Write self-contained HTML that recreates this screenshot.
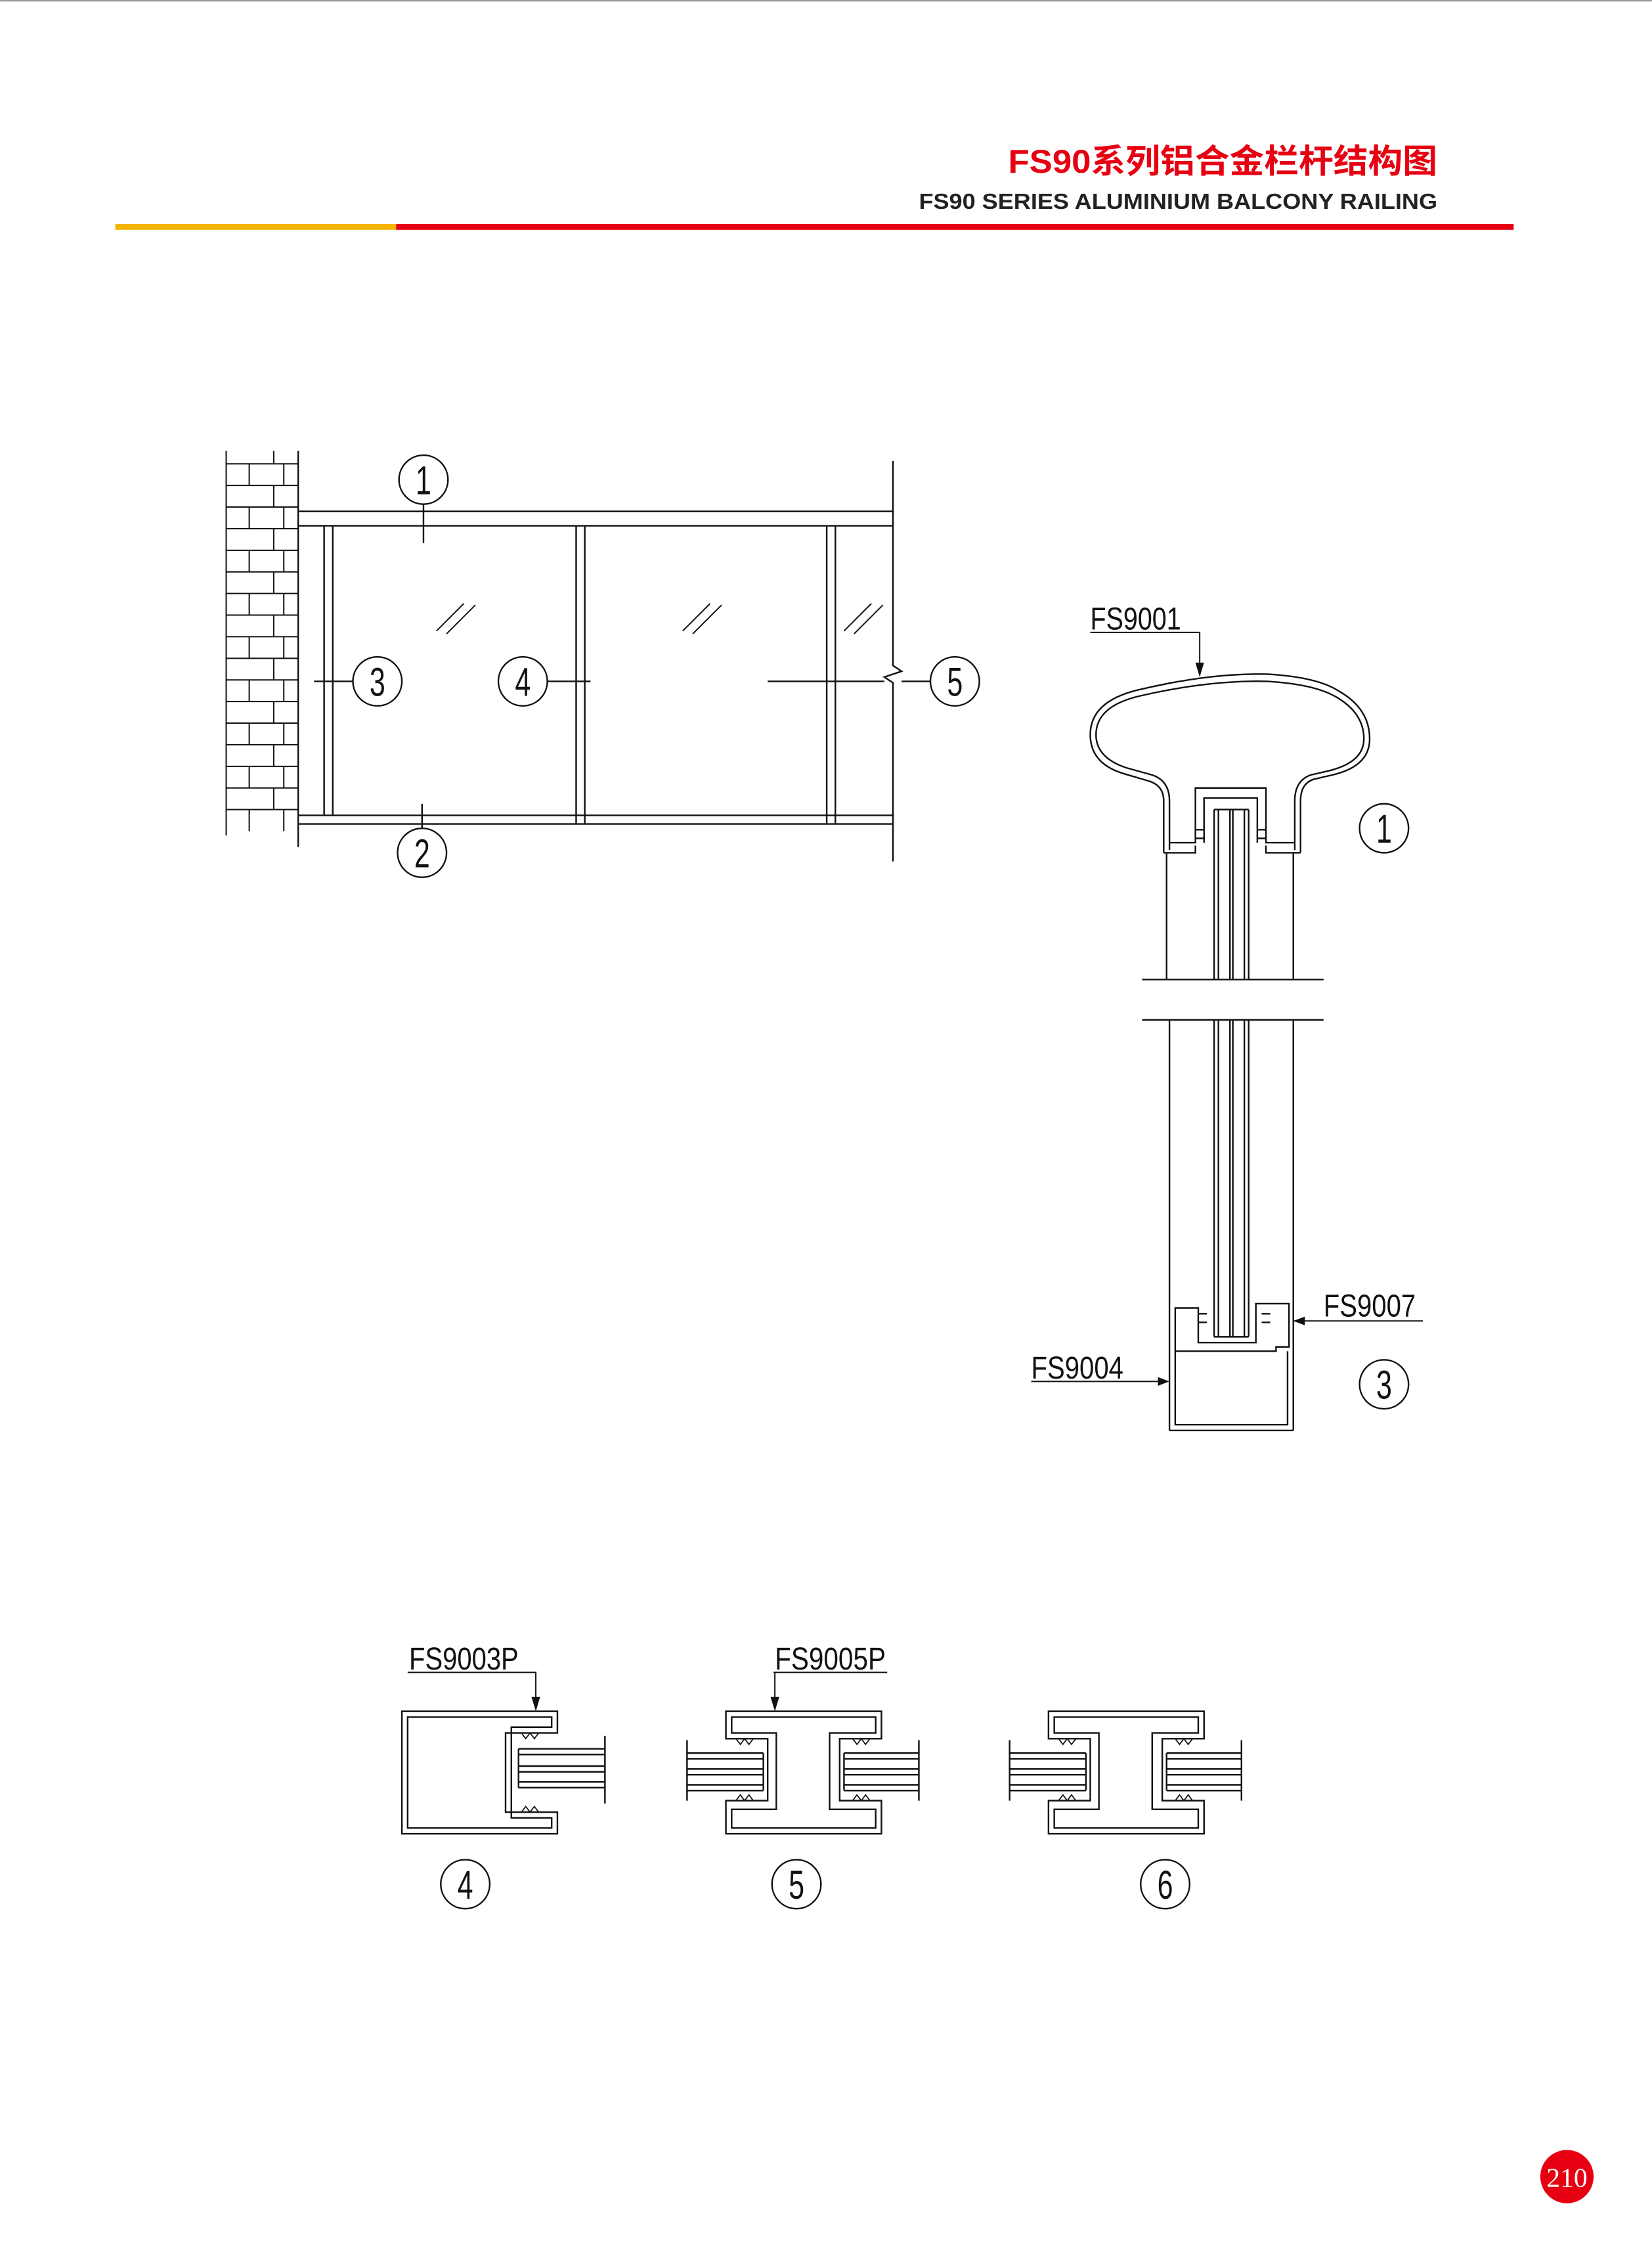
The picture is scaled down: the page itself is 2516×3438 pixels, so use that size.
<!DOCTYPE html>
<html><head><meta charset="utf-8"><style>
html,body{margin:0;padding:0;background:#fff}
svg{display:block}
</style></head><body>
<svg width="2516" height="3438" viewBox="0 0 1147 1567.5" xmlns="http://www.w3.org/2000/svg">
<rect width="1147" height="1568" fill="#fff"/>
<line x1="0" y1="0.5" x2="1147" y2="0.5" stroke="#999" stroke-width="1"/>
<!-- header -->
<text x="700" y="120" textLength="298" lengthAdjust="spacingAndGlyphs" font-family="Liberation Sans, 'Noto Sans CJK SC', sans-serif" font-size="23" font-weight="bold" fill="#e60012">FS90系列铝合金栏杆结构图</text>
<text x="638" y="145" textLength="360" lengthAdjust="spacingAndGlyphs" font-family="Liberation Sans, sans-serif" font-size="15" font-weight="bold" fill="#222">FS90 SERIES ALUMINIUM BALCONY RAILING</text>
<rect x="80" y="155.5" width="195" height="4" fill="#f5b400"/>
<rect x="275" y="155.5" width="776" height="4" fill="#e60012"/>

<g fill="none" stroke="#111" stroke-width="1.1">
<!-- brick wall -->
<line x1="207" y1="313" x2="207" y2="588"/>
<g stroke-width="0.9">
<path d="M157,313 V580"/>
<path d="M157,322 H207 M157,337 H207 M157,352 H207 M157,367 H207 M157,382 H207 M157,397 H207 M157,412 H207 M157,427 H207 M157,442 H207 M157,457 H207 M157,472 H207 M157,487 H207 M157,502 H207 M157,517 H207 M157,532 H207 M157,547 H207 M157,562 H207"/>
<path d="M190,313V322 M173,322V337 M197,322V337 M190,337V352 M173,352V367 M197,352V367 M190,367V382 M173,382V397 M197,382V397 M190,397V412 M173,412V427 M197,412V427 M190,427V442 M173,442V457 M197,442V457 M190,457V472 M173,472V487 M197,472V487 M190,487V502 M173,502V517 M197,502V517 M190,517V532 M173,532V547 M197,532V547 M190,547V562 M173,562V577 M197,562V577"/>
</g>
<!-- rails -->
<path d="M207,355 H620 M207,365 H620 M207,566 H620 M207,572 H620"/>
<path d="M225,365 V566 M231,365 V566 M400,365 V572 M406,365 V572 M574,365 V572 M580,365 V572"/>
<path d="M620,320 V462 L626,466 L614,470 L620,474 V598"/>
<!-- hatch -->
<path d="M303,438 L322,419 M310,440 L330,420 M474,438 L493,419 M481,440 L501,420 M586,438 L605,419 M593,440 L613,420" stroke-width="0.9"/>
<!-- leaders -->
<path d="M294,350 V377 M293,575 V558 M218,473 H245 M380,473 H410 M533,473 H614 M626,473 H646"/>
<ellipse cx="294" cy="333" rx="17" ry="17"/>
<ellipse cx="293" cy="592" rx="17" ry="17"/>
<ellipse cx="262" cy="473" rx="17" ry="17"/>
<ellipse cx="363" cy="473" rx="17" ry="17"/>
<ellipse cx="663" cy="473" rx="17" ry="17"/>
<ellipse cx="961" cy="575" rx="17" ry="17"/>
<ellipse cx="961" cy="961" rx="17" ry="17"/>
<ellipse cx="323" cy="1308" rx="17" ry="17"/>
<ellipse cx="553" cy="1308" rx="17" ry="17"/>
<ellipse cx="809" cy="1308" rx="17" ry="17"/>

<!-- handrail section -->
<path d="M808,592 V556 Q808,545 797,542 L780,537 Q757,530 757,510 Q757,487 790,479 Q840,467 880,468 Q915,470 930,480 Q951,492 951,513 Q951,532 925,538 L912,541 Q903,544 903,556 V592"/>
<path d="M812,590 V556 Q812,542 800,538 L782,533 Q761,526 761,510 Q761,490 792,483 Q840,472 880,473 Q913,475 928,484 Q947,495 947,513 Q947,529 923,535 L910,538 Q899,542 899,556 V590 M812,585 H830 V547 H879 V585 H899 M808,592 H830 V587 M903,592 H879 V587 M836,585 V554 H873 V585"/>
<path d="M830,576 H836 M830,582 H836 M873,576 H879 M873,582 H879"/>
<path d="M810,592 V680 M898,592 V680 M793,680 H919 M793,708 H919 M812,708 V993 M898,708 V993 M812,993 H898"/>
<path d="M843,562 V680 M867,562 V680 M843,562 H867 M846,562 V680 M864,562 V680 M854,562 V680 M856,562 V680"/>
<path d="M843,708 V928 M867,708 V928 M846,708 V928 M864,708 V928 M854,708 V928 M856,708 V928 M843,928 H867"/>
<path d="M816,908 H832 V932 H872 V905 H895 V935 H886 V938 H816 Z M816,908 V989 H894 V938"/>
<path d="M832,912 H838 M832,918 H838 M876,912 H882 M876,918 H882"/>

<!-- leaders right -->
<path d="M757,439 H833 V466" stroke-width="0.9"/>
<path d="M919,917 H988 M919,917 H898" stroke-width="0.9"/>
<path d="M716,959 H808" stroke-width="0.9"/>

<!-- detail 4 -->
<path d="M387,1188 H279 V1273 H387 V1258 H351 V1203 H387 Z"/>
<path d="M383,1192 H283 V1269 H383 V1262 H355 V1199 H383 Z"/>
<path d="M360,1214 H420 M360,1218 H420 M360,1226 H420 M360,1230 H420 M360,1237 H420 M360,1241 H420 M360,1214 V1241 M420,1205 V1252"/>
<path d="M362,1203 l3,4 3,-4 3,4 3,-4 M362,1258 l3,-4 3,4 3,-4 3,4" stroke-width="0.8"/>

<!-- detail 5 & 6 -->
<g id="h5">
<path d="M504,1188 H612 V1207 H583 V1250 H612 V1273 H504 V1250 H533 V1207 H504 Z"/>
<path d="M508,1192 H608 V1203 H576 V1256 H608 V1269 H508 V1256 H539 V1203 H508 Z"/>
<path d="M477,1217 H530 M477,1221 H530 M477,1228 H530 M477,1232 H530 M477,1239 H530 M477,1243 H530 M530,1217 V1243 M477,1208 V1250"/>
<path d="M586,1217 H638 M586,1221 H638 M586,1228 H638 M586,1232 H638 M586,1239 H638 M586,1243 H638 M586,1217 V1243 M638,1208 V1250"/>
<path d="M511,1207 l3,4 3,-4 3,4 3,-4 M511,1250 l3,-4 3,4 3,-4 3,4 M592,1207 l3,4 3,-4 3,4 3,-4 M592,1250 l3,-4 3,4 3,-4 3,4" stroke-width="0.8"/>
</g>
<use href="#h5" transform="translate(224,0)"/>

<path d="M283,1161 H372 V1183 M537,1161 H616 M538,1161 V1183" stroke-width="0.9"/>
</g>
<!-- arrowheads -->
<g fill="#111">
<path d="M830,460 L836,460 L833,470 Z"/>
<path d="M369,1178 L375,1178 L372,1188 Z"/>
<path d="M535,1178 L541,1178 L538,1188 Z"/>
<path d="M898,917 L906,914 L906,920 Z"/>
<path d="M812,959 L804,956 L804,962 Z"/>
</g>
<!-- texts -->
<g font-family="Liberation Sans, sans-serif" fill="#111" font-size="28">
<text transform="translate(294,343) scale(0.7,1)" text-anchor="middle">1</text>
<text transform="translate(293,602) scale(0.7,1)" text-anchor="middle">2</text>
<text transform="translate(262,483) scale(0.7,1)" text-anchor="middle">3</text>
<text transform="translate(363,483) scale(0.7,1)" text-anchor="middle">4</text>
<text transform="translate(663,483) scale(0.7,1)" text-anchor="middle">5</text>
<text transform="translate(961,585) scale(0.7,1)" text-anchor="middle">1</text>
<text transform="translate(961,971) scale(0.7,1)" text-anchor="middle">3</text>
<text transform="translate(323,1318) scale(0.7,1)" text-anchor="middle">4</text>
<text transform="translate(553,1318) scale(0.7,1)" text-anchor="middle">5</text>
<text transform="translate(809,1318) scale(0.7,1)" text-anchor="middle">6</text>
</g>
<g font-family="Liberation Sans, sans-serif" fill="#111" font-size="22">
<text x="757" y="437" textLength="63" lengthAdjust="spacingAndGlyphs">FS9001</text>
<text x="919" y="914" textLength="64" lengthAdjust="spacingAndGlyphs">FS9007</text>
<text x="716" y="957" textLength="64" lengthAdjust="spacingAndGlyphs">FS9004</text>
<text x="284" y="1159" textLength="76" lengthAdjust="spacingAndGlyphs">FS9003P</text>
<text x="538" y="1159" textLength="77" lengthAdjust="spacingAndGlyphs">FS9005P</text>
</g>
<!-- page number -->
<circle cx="1088" cy="1511" r="18.5" fill="#e60012"/>
<text x="1088" y="1518" text-anchor="middle" font-family="Liberation Serif, serif" font-size="19" fill="#fff">210</text>
</svg>
</body></html>
